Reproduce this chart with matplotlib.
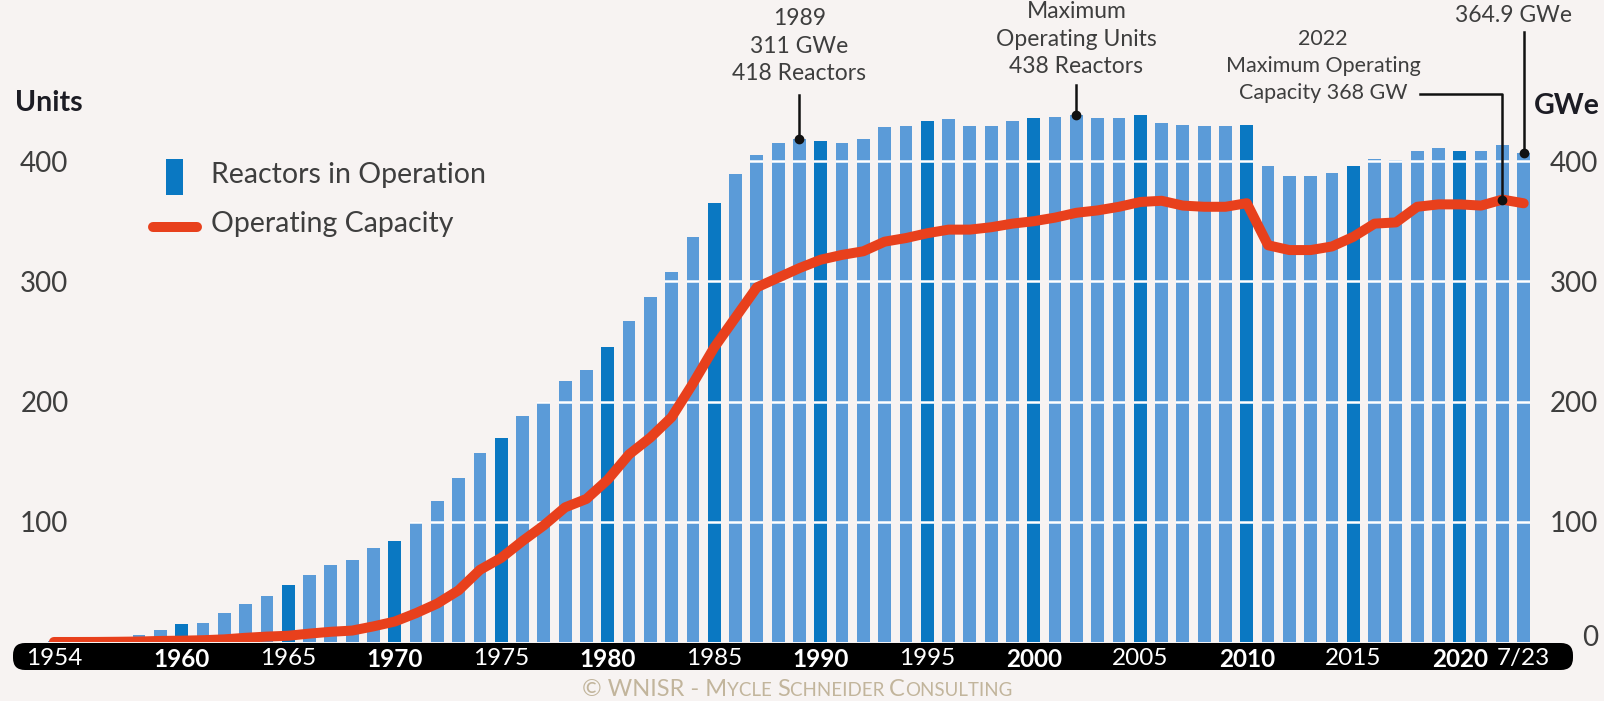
import numpy as np
import matplotlib
matplotlib.use("Agg")
import matplotlib.pyplot as plt
from matplotlib.patches import Rectangle, FancyBboxPatch
from matplotlib.lines import Line2D
from matplotlib.path import Path
from matplotlib.offsetbox import TextArea, HPacker, AnchoredOffsetbox
import matplotlib.transforms as mtransforms

plt.rcParams['font.family'] = ['Lato', 'DejaVu Sans']

# data
years = list(range(1954, 2024))
reactors = [1, 1, 2, 4, 6, 10, 15, 16, 24, 32, 38, 47, 56, 64, 68, 78,
            84, 100, 117, 136, 157, 170, 188, 200, 217, 226,
            245, 267, 287, 308, 337, 365, 389, 405, 415, 418,
            417, 415, 418, 428, 429, 433, 435, 429, 429, 433,
            436, 437, 438, 436, 436, 438, 432, 430, 429, 429,
            430, 396, 388, 388, 390, 396, 402, 401, 408, 411,
            408, 408, 413, 407]
capacity = [0.005, 0.01, 0.06, 0.2, 0.4, 0.9, 1.1, 1.5, 2.2, 3.5, 4.5, 5.2, 7, 8.5, 9.5, 13,
            17, 24, 32, 43, 60, 70, 84, 97, 112, 119,
            135, 156, 170, 187, 215, 245, 270, 295, 303, 311,
            318, 322, 325, 333, 336, 340, 343, 343, 345, 348,
            350, 353, 357, 359, 362, 366, 367, 363, 362, 362,
            365, 330, 326, 326, 329, 337, 348, 349, 362, 364,
            364, 363, 368, 364.9]
tick_years = [1954, 1960, 1965, 1970, 1975, 1980, 1985, 1990, 1995, 2000, 2005, 2010, 2015, 2020, 2023]
tick_labels = ['1954', '1960', '1965', '1970', '1975', '1980', '1985', '1990', '1995', '2000',
               '2005', '2010', '2015', '2020', '7/23']
bold_labels = ['1960', '1970', '1980', '1990', '2000', '2010', '2020']
grid_vals = [100, 200, 300, 400]

W, H = 1604, 701
bg = '#f7f3f2'
light = '#5b9bd8'
dark = '#0a78c2'
red = '#e8401c'
txt = '#3e3e3e'

def fx(px):
    return px / W

def fy(py):
    return 1 - py / H

fig = plt.figure(figsize=(W / 100, H / 100), dpi=100, facecolor=bg)
ax = fig.add_axes([fx(13), fy(642), fx(1545) - fx(13), fy(0) - fy(642)])
ax.set_facecolor(bg)

colors = [dark if y % 5 == 0 else light for y in years]
bars = ax.bar(years, reactors, width=0.6, color=colors, zorder=1)

ax.set_xlim(1952.08, 2024.0)
ax.set_ylim(0, 534)
ax.set_yticks(grid_vals)
ax.set_yticklabels([str(v) for v in grid_vals])
ax.tick_params(axis='y', length=0, pad=-40, labelsize=20, labelcolor=txt)
for s in ax.spines.values():
    s.set_visible(False)

# white gridlines only show through the bars
bar_path = Path.make_compound_path(*[b.get_path().transformed(b.get_patch_transform()) for b in bars])
gl = ax.hlines(grid_vals, 1952.08, 2024.0, color='white', lw=1.8, zorder=2)
gl.set_clip_path(bar_path, ax.transData)

ax.set_xticks(tick_years)
ax.set_xticklabels(tick_labels)
ax.tick_params(axis='x', length=0, pad=4, labelsize=17.5, labelcolor='white')
for lab in ax.get_xticklabels():
    if lab.get_text() in bold_labels:
        lab.set_fontweight('bold')

ax2 = ax.twinx()
ax2.set_zorder(ax.get_zorder() + 1)
ax2.patch.set_visible(False)
ax2.set_ylim(ax.get_ylim())
ax2.set_yticks([0, 100, 200, 300, 400])
ax2.tick_params(axis='y', length=0, pad=38, labelsize=20, labelcolor=txt)
for lab in ax2.get_yticklabels():
    lab.set_horizontalalignment('right')
zero_lab = ax2.get_yticklabels()[0]
zero_lab.set_transform(zero_lab.get_transform() + mtransforms.ScaledTranslation(0, 6 / 100, fig.dpi_scale_trans))
for s in ax2.spines.values():
    s.set_visible(False)
ax2.plot(years, capacity, color=red, lw=7.2, solid_capstyle='round', solid_joinstyle='round', zorder=4)

# black band with the years
band = FancyBboxPatch((fx(13), fy(670)), fx(1573) - fx(13), fy(643) - fy(670),
                      boxstyle='round,pad=0,rounding_size=0.0075', mutation_aspect=W / H,
                      transform=fig.transFigure, facecolor='black', edgecolor='none', zorder=-1)
fig.add_artist(band)

fig.text(fx(15), fy(103), 'Units', fontsize=20.5, fontweight='bold', color='#1c1c24', va='center', zorder=10)
fig.text(fx(1600), fy(106), 'GWe', fontsize=20.5, fontweight='bold', color='#1c1c24', va='center', ha='right', zorder=10)

# legend
fig.add_artist(Rectangle((fx(166), fy(195)), fx(183) - fx(166), fy(159) - fy(195),
                         transform=fig.transFigure, facecolor=dark, edgecolor='none', zorder=10))
fig.add_artist(Line2D([fx(153), fx(197)], [fy(227), fy(227)], transform=fig.transFigure,
                      color=red, lw=7.2, solid_capstyle='round', zorder=10))
fig.text(fx(211), fy(175), 'Reactors in Operation', fontsize=20.5, color=txt, va='center', zorder=10)
fig.text(fx(211), fy(224), 'Operating Capacity', fontsize=20.5, color=txt, va='center', zorder=10)

# annotations
def ydat(py):
    return (642 - py) / 1.2025

def xdat(px):
    return 1954 + (px - 54) / 21.3

i89 = years.index(1989)
ax2.text(1989, ydat(46), '1989\n311 GWe\n418 Reactors', ha='center', va='center',
         fontsize=16.5, color=txt, linespacing=1.4, zorder=6)
ax2.plot([1989, 1989], [ydat(95), reactors[i89]], color='#111111', lw=1.8, zorder=6)
ax2.plot(1989, reactors[i89], 'o', color='#111111', ms=6, zorder=6)

i02 = years.index(2002)
ax2.text(2002, ydat(1), 'Maximum\nOperating Units\n438 Reactors', ha='center', va='top',
         fontsize=16.5, color=txt, linespacing=1.38, zorder=6)
ax2.plot([2002, 2002], [ydat(85), reactors[i02]], color='#111111', lw=1.8, zorder=6)
ax2.plot(2002, reactors[i02], 'o', color='#111111', ms=6, zorder=6)

i22 = years.index(2022)
ax2.text(xdat(1323), ydat(66), '2022\nMaximum Operating\nCapacity 368 GW', ha='center', va='center',
         fontsize=15.5, color=txt, linespacing=1.45, zorder=6)
ax2.plot([xdat(1420), 2022, 2022], [ydat(94), ydat(94), capacity[i22]], color='#111111', lw=1.8, zorder=6)
ax2.plot(2022, capacity[i22], 'o', color='#111111', ms=6, zorder=6)

i23 = years.index(2023)
ax2.text(xdat(1514), ydat(15), '364.9 GWe', ha='center', va='center', fontsize=16.5, color=txt, zorder=6)
ax2.plot([2023, 2023], [ydat(32), reactors[i23]], color='#111111', lw=1.8, zorder=6)
ax2.plot(2023, reactors[i23], 'o', color='#111111', ms=6, zorder=6)

# copyright in small caps
parts = [('© WNISR - M', 17), ('YCLE\u00a0', 13.5), ('S', 17), ('CHNEIDER\u00a0', 13.5), ('C', 17), ('ONSULTING', 13.5)]
boxes = [TextArea(t, textprops=dict(size=s, color='#c2b59c')) for t, s in parts]
pack = HPacker(children=boxes, align='baseline', pad=0, sep=0)
ab = AnchoredOffsetbox(loc='center', child=pack, bbox_to_anchor=(fx(797), fy(689)),
                       bbox_transform=fig.transFigure, frameon=False, pad=0, borderpad=0)
fig.add_artist(ab)

fig.savefig('out.png', dpi=100, facecolor=bg)
